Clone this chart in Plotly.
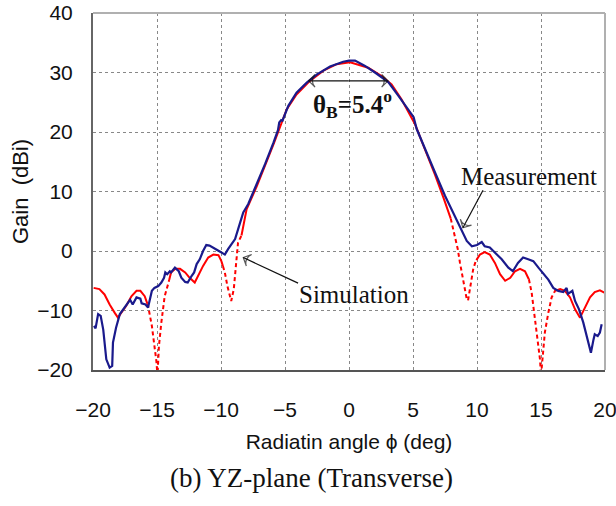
import numpy as np
import plotly.graph_objects as go

# ---------------- data ----------------
meas_x = [-19.92, -19.8, -19.6, -19.4, -19.2, -18.96, -18.7, -18.5, -18.44, -18.2,
          -17.9, -17.5, -17.1, -16.9, -16.6, -16.3, -16.2, -15.9, -15.7, -15.4,
          -15.2, -14.9, -14.66, -14.45, -14.35, -14.2, -14.0, -13.9, -13.6, -13.3,
          -13.1, -12.8, -12.6, -12.3, -12.1, -11.9, -11.66, -11.4, -11.15, -10.9,
          -10.6, -10.4, -10.0, -9.7, -9.45, -9.2, -8.9, -8.5, -8.26, -7.87,
          -7.2, -6.56, -5.9, -5.55, -5.45, -5.3, -5.2, -4.74, -4.1, -3.3,
          -2.5, -1.48, -0.45, 0.0, 0.47, 1.25, 2.03, 3.07, 3.85, 4.9,
          5.05, 5.29, 5.94, 6.72, 7.5, 8.28, 8.9, 9.2, 9.6, 10.0,
          10.37, 10.6, 11.0, 11.4, 11.93, 12.45, 12.8, 13.2, 13.6, 14.0,
          14.4, 14.8, 15.2, 15.57, 15.96, 16.35, 16.74, 17.0, 17.1, 17.45,
          17.66, 17.97, 18.3, 18.57, 18.7, 18.9, 19.1, 19.2, 19.43, 19.6, 19.74]
meas_y = [-12.6, -13.0, -10.6, -10.9, -13.2, -18.2, -19.6, -19.3, -15.4, -12.9,
          -10.6, -9.4, -8.2, -9.0, -7.8, -8.0, -8.8, -9.0, -9.5, -6.7,
          -6.2, -5.9, -5.3, -4.5, -3.6, -3.9, -3.4, -3.6, -2.8, -3.4,
          -4.5, -5.2, -5.3, -4.2, -3.6, -2.2, -1.4, 0.0, 1.0, 0.9,
          0.6, 0.3, -0.2, -0.6, 0.3, 1.1, 2.0, 4.8, 6.5, 7.9,
          11.2, 14.6, 18.2, 20.3, 21.6, 22.0, 21.9, 24.4, 26.6, 28.3,
          29.7, 31.0, 31.8, 32.0, 32.0, 31.1, 30.0, 28.4, 26.1, 23.0,
          22.5, 20.5, 17.1, 13.2, 9.3, 5.9, 3.2, 1.7, 0.8, 1.0,
          1.5, 0.8, 0.6, -0.3, -1.4, -2.8, -3.4, -2.0, -1.1, -1.4,
          -1.7, -2.8, -3.9, -4.8, -6.2, -6.7, -6.9, -6.2, -7.2, -6.7,
          -8.4, -9.8, -12.0, -14.3, -15.7, -17.1, -14.9, -14.0, -14.3, -13.7, -12.3]

sim_x = [-19.95, -19.5, -19.1, -18.7, -18.3, -18.05, -17.8, -17.4, -17.0, -16.6,
         -16.3, -15.96, -15.7, -15.4, -15.2, -15.05, -14.96, -14.85, -14.66, -14.4,
         -14.1, -13.9, -13.57, -13.2, -12.8, -12.45, -12.05, -11.8, -11.4, -11.0,
         -10.6, -10.2, -9.97, -9.7, -9.5, -9.3, -9.2, -9.0, -8.9, -8.8,
         -8.67, -8.4, -8.0, -7.2, -5.9, -4.87, -4.1, -3.05, -2.0, -0.96,
         0.08, 1.5, 2.55, 3.33, 4.1, 5.16, 5.94, 6.7, 7.37, 7.9,
         8.15, 8.5, 8.67, 8.93, 9.2, 9.3, 9.53, 9.7, 9.9, 10.23,
         10.6, 11.0, 11.4, 11.8, 12.2, 12.6, 12.97, 13.36, 13.75, 14.06,
         14.27, 14.5, 14.74, 14.92, 15.0, 15.13, 15.3, 15.57, 15.83, 16.1,
         16.5, 16.87, 17.27, 17.66, 18.05, 18.44, 18.83, 19.2, 19.6, 19.95]
sim_y = [-6.2, -6.4, -7.3, -9.0, -10.4, -11.2, -10.4, -9.2, -7.6, -6.7,
         -6.7, -7.6, -9.2, -12.6, -15.7, -18.5, -21.0, -16.0, -12.0, -7.6,
         -5.3, -3.6, -3.0, -3.0, -3.6, -4.5, -5.3, -4.2, -2.5, -1.1,
         -0.6, -0.7, -1.7, -3.6, -5.9, -7.8, -8.4, -6.4, -3.6, -0.8,
         1.4, 2.6, 7.0, 10.9, 17.9, 23.8, 26.3, 28.6, 30.3, 31.4,
         31.7, 30.8, 29.4, 28.0, 25.5, 21.3, 17.1, 12.9, 9.0, 5.9,
         3.6, 0.3, -2.0, -5.3, -8.1, -8.3, -5.3, -3.1, -1.7, -0.6,
         -0.2, -0.6, -2.0, -3.9, -5.0, -4.5, -3.4, -3.0, -3.4, -4.8,
         -7.0, -10.9, -14.9, -18.2, -21.0, -17.1, -13.7, -10.4, -7.8, -6.7,
         -6.4, -6.7, -7.8, -9.8, -11.2, -9.5, -7.8, -6.9, -6.6, -7.0]

# angular ranges of the simulation drawn dashed (null regions)
sim_dashed_ranges = [(-15.75, -14.05), (-9.85, -8.4), (7.95, 9.95), (14.05, 16.05)]

x_ticks = [-20, -15, -10, -5, 0, 5, 10, 15, 20]
y_ticks = [-20, -10, 0, 10, 20, 30, 40]

# ---------------- build simulation segments ----------------
sx = np.array(sim_x, dtype=float)
sy = np.array(sim_y, dtype=float)
edges = np.array([e for r in sim_dashed_ranges for e in r])
ex = np.concatenate([sx, edges])
ey = np.concatenate([sy, np.interp(edges, sx, sy)])
order = np.argsort(ex, kind="stable")
ex, ey = ex[order], ey[order]


def inside(v, strict):
    for a, b in sim_dashed_ranges:
        if (strict and a < v < b) or (not strict and a - 1e-9 <= v <= b + 1e-9):
            return True
    return False


solid_y = [None if inside(v, True) else float(w) for v, w in zip(ex, ey)]
dash_y = [float(w) if inside(v, False) else None for v, w in zip(ex, ey)]

RED = "#ff0000"
BLUE = "#1a1a8c"
INK = "#111111"
SANS = "Liberation Sans, Arial, sans-serif"
SERIF = "Liberation Serif, Times New Roman, serif"

fig = go.Figure()
fig.add_trace(go.Scatter(x=list(ex), y=solid_y, mode="lines", name="Simulation",
                         line=dict(color=RED, width=2), connectgaps=False,
                         showlegend=False))
fig.add_trace(go.Scatter(x=list(ex), y=dash_y, mode="lines", name="Simulation (nulls)",
                         line=dict(color=RED, width=2, dash="4px,3px"),
                         connectgaps=False, showlegend=False))
fig.add_trace(go.Scatter(x=meas_x, y=meas_y, mode="lines", name="Measurement",
                         line=dict(color=BLUE, width=2.2), showlegend=False))


def arrow(tail, head, name):
    fig.add_trace(go.Scatter(
        x=[tail[0], head[0]], y=[tail[1], head[1]], mode="lines+markers", name=name,
        line=dict(color=INK, width=1.2),
        marker=dict(symbol="arrow-wide-open", size=[0, 9], angleref="previous",
                    color=INK, line=dict(color=INK, width=1.2)),
        showlegend=False, hoverinfo="skip", cliponaxis=False))


# beamwidth double arrow (drawn as two halves from the middle)
arrow((-0.05, 28.6), (-3.15, 28.6), "beamwidth")
arrow((-0.05, 28.6), (3.05, 28.6), "beamwidth")
# label arrows
arrow((10.47, 10.2), (8.9, 3.9), "measurement pointer")
arrow((-3.98, -5.4), (-8.26, -1.1), "simulation pointer")

fig.update_layout(
    width=616, height=506,
    margin=dict(l=93, r=11, t=13, b=136),
    paper_bgcolor="white", plot_bgcolor="white",
    font=dict(family=SANS, size=20, color=INK),
    hovermode=False,
    xaxis=dict(range=[-20, 20], tickvals=x_ticks,
               ticktext=[str(v).replace("-", "\u2212") for v in x_ticks],
               showgrid=True, gridcolor="#888", griddash="dot", gridwidth=1,
               showline=True, linecolor="#555", linewidth=2, zeroline=False,
               ticks="", ticklabelstandoff=20, ticklabeloverflow="allow",
               tickfont=dict(family=SANS, size=21, color=INK),
               title=dict(text="Radiatin angle \u03d5 (deg)",
                          font=dict(family=SANS, size=21, color=INK), standoff=14),
               automargin=False),
    yaxis=dict(range=[-20, 40], tickvals=y_ticks,
               ticktext=[str(v).replace("-", "\u2212") for v in y_ticks],
               showgrid=True, gridcolor="#888", griddash="dot", gridwidth=1,
               showline=True, linecolor="#666", linewidth=2, zeroline=False,
               ticks="", ticklabelstandoff=14, ticklabeloverflow="allow",
               tickfont=dict(family=SANS, size=21, color=INK),
               title=dict(text="Gain\u00a0\u00a0(dBi)",
                          font=dict(family=SANS, size=22, color=INK), standoff=2),
               automargin=False),
)

# light top / right frame
fig.add_shape(type="line", xref="paper", yref="paper", x0=0, x1=1, y0=1, y1=1,
              line=dict(color="#b0b0b0", width=2))
fig.add_shape(type="line", xref="paper", yref="paper", x0=1, x1=1, y0=0, y1=1,
              line=dict(color="#b0b0b0", width=2))

fig.add_annotation(x=0.3, y=24.7, xref="x", yref="y", showarrow=False,
                   text="<b>\u03b8<sub>B</sub>=5.4<sup>o</sup></b>",
                   font=dict(family=SERIF, size=25, color=INK))
fig.add_annotation(x=14.1, y=12.6, xref="x", yref="y", showarrow=False, text="Measurement",
                   font=dict(family=SERIF, size=25, color=INK))
fig.add_annotation(x=0.4, y=-7.3, xref="x", yref="y", showarrow=False, text="Simulation",
                   font=dict(family=SERIF, size=25, color=INK))
# caption
fig.add_annotation(x=0.426, y=-0.302, xref="paper", yref="paper", showarrow=False,
                   text="(b) YZ-plane (Transverse)", yanchor="middle",
                   font=dict(family=SERIF, size=27, color=INK))

fig.write_html("out.html")
